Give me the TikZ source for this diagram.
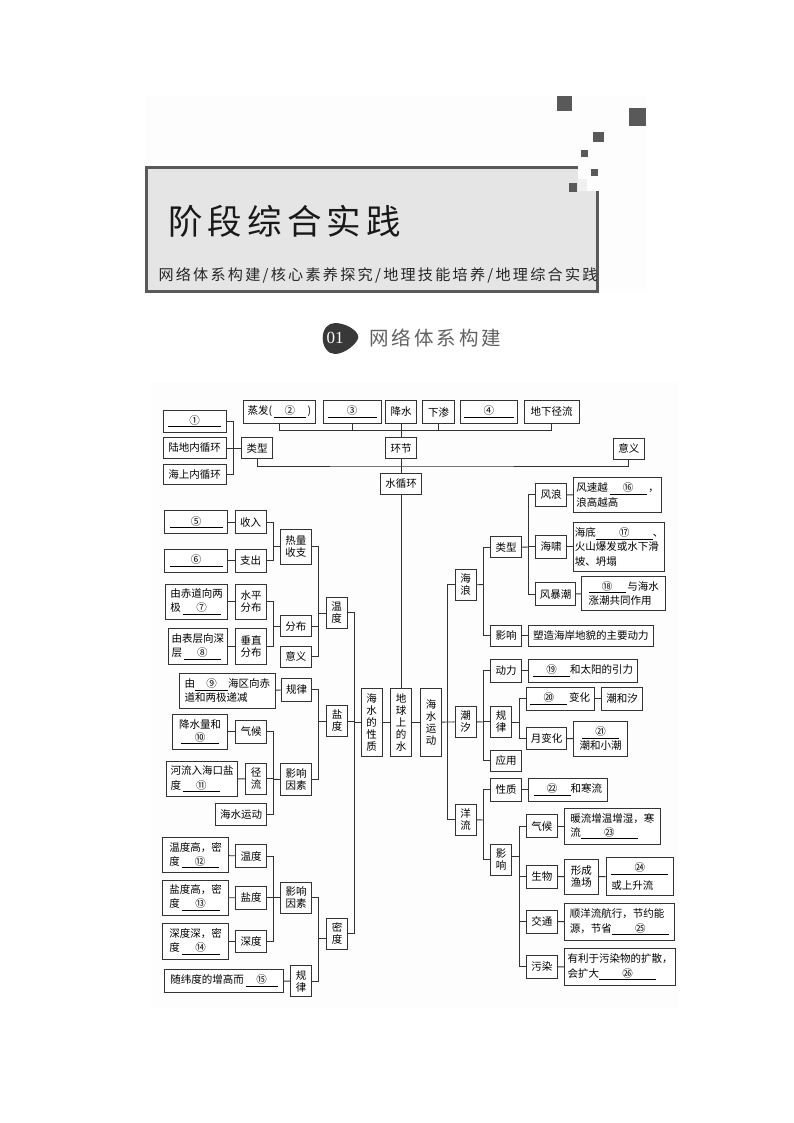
\documentclass[tikz,border=0pt]{standalone}
\usepackage{fontspec}
\setmainfont{Noto Sans CJK SC}
\newfontfamily\spaced[LetterSpace=15]{Noto Sans CJK SC}
\newfontfamily\digits{Liberation Serif}
\definecolor{panel-gray}{gray}{0.993}
\definecolor{head-gray}{gray}{0.9}
\definecolor{edge-gray}{gray}{0.35}
\definecolor{line-gray}{gray}{0.2}
\newcommand{\fillin}[2]{\underline{\makebox[#1pt]{#2}}}
\tikzset{
	box/.style={draw=line-gray,line width=.9pt,inner sep=0pt,align=center,fill=white,font=\fontsize{10.5}{12}\selectfont},
	para/.style={box,align=left,font=\fontsize{10.5}{14.3}\selectfont},
	wh/.style 2 args={minimum width=#1pt,minimum height=#2pt},
	link/.style={draw=line-gray,line width=.9pt}
}
\begin{document}
\begin{tikzpicture}[x=1pt,y=-1pt]
			\useasboundingbox (0,0) rectangle (794,1123);
			\fill [white] (0,0) rectangle (794,1123);
			\fill [panel-gray] (145,96) rectangle (647,292);					% header panel
			\fill [panel-gray] (150,382) rectangle (678,1008);					% chart panel
			\draw [draw=edge-gray,fill=head-gray,line width=3pt] (146.5,167.5) rectangle (597.5,291);	% title frame
			\fill [panel-gray] (577.7,165) rectangle (600,179);
			\fill [panel-gray] (586.7,179) rectangle (600,190.7);
			\fill [gray!12] (577.7,179) rectangle (586.7,190.7);
			\fill [edge-gray] (556.7,96) rectangle (572.3,111);					% squares
			\fill [edge-gray] (628.7,108.3) rectangle (646,125.7);
			\fill [edge-gray] (593,132) rectangle (603.7,142.3);
			\fill [edge-gray] (581,149.7) rectangle (588,156.7);
			\fill [edge-gray] (590.7,169) rectangle (598,176.3);
			\fill [edge-gray] (569,183.3) rectangle (577.3,192);
			\node [anchor=west,inner sep=0pt,font=\fontsize{34.5}{36}\selectfont\spaced,text=black!90] (title) at (168,221.5) {阶段综合实践};
			\node [anchor=west,inner sep=0pt,font=\fontsize{15.1}{16}\selectfont\spaced,text=black!85] (subtitle) at (158.3,275) {网络体系构建/核心素养探究/地理技能培养/地理综合实践};
			\fill [black!78] (322.7,338) .. controls (322.7,329) and (328,323) .. (335,323) .. controls (345,323) and (358,330) .. (358.3,337) .. controls (358,343) and (345,354) .. (335,354) .. controls (328,354) and (322.7,347) .. cycle;
			\node [text=white,font=\fontsize{17}{17}\selectfont\digits,inner sep=0pt] (num) at (335,338) {01};
			\node [anchor=west,inner sep=0pt,font=\fontsize{19.5}{20}\selectfont\spaced,text=black!62] (section) at (369.3,338) {网络体系构建};

			% water cycle
			\node [box,wh={62.7}{22.7}] (c1) at (194.7,421.3) {\fillin{53}{①}};
			\node [box,wh={62.7}{20.6}] (luDi) at (194.7,448) {陆地内循环};
			\node [box,wh={62.7}{20.7}] (haiShang) at (194.7,474.3) {海上内循环};
			\node [box,wh={31}{21}] (leiXing) at (257.2,448.2) {类型};
			\node [box,wh={72}{22.6}] (zhengFa) at (279.3,412) {蒸发(\,\fillin{32}{②}\,)};
			\node [box,wh={57.7}{22.6}] (c3) at (352.2,412) {\fillin{49}{③}};
			\node [box,wh={31.4}{22.6}] (jiangShui) at (401,412) {降水};
			\node [box,wh={31.6}{22.6}] (xiaShen) at (438.5,412) {下渗};
			\node [box,wh={57.7}{22.6}] (c4) at (488.8,412) {\fillin{50}{④}};
			\node [box,wh={55}{22.6}] (jingLiu) at (551.5,412) {地下径流};
			\node [box,wh={31.7}{21}] (huanJie) at (401,448.2) {环节};
			\node [box,wh={31}{21}] (yiYi) at (628.8,448.5) {意义};
			\node [box,wh={41.4}{21}] (shuiXunHuan) at (401,483.8) {水循环};

			% centre column
			\node [box,wh={20.7}{67.7}] (xingZhi) at (371.7,722.2) {海\\水\\的\\性\\质};
			\node [box,wh={21}{67.7}] (diQiu) at (401,722.2) {地\\球\\上\\的\\水};
			\node [box,wh={21}{67.7}] (yunDong) at (431.2,722.2) {海\\水\\运\\动};

			% temperature
			\node [box,wh={63}{23}] (c5) at (196.2,522.2) {\fillin{53}{⑤}};
			\node [box,wh={63}{23}] (c6) at (196.2,560.8) {\fillin{53}{⑥}};
			\node [box,wh={30.7}{23}] (shouRu) at (250.7,522.2) {收入};
			\node [box,wh={30.7}{23}] (zhiChu) at (250.7,560.8) {支出};
			\node [box,wh={31.7}{35}] (reLiang) at (295.8,546.8) {热量\\收支};
			\node [box,wh={31.7}{21}] (fenBu) at (295.8,626.2) {分布};
			\node [box,wh={31.7}{21}] (yiYiT) at (295.8,656.8) {意义};
			\node [box,wh={21.3}{31}] (wenDu) at (336.7,612.8) {温\\度};
			\node [box,wh={31.4}{35}] (shuiPing) at (251,601.8) {水平\\分布};
			\node [box,wh={31.4}{35.6}] (chuiZhi) at (251,646.5) {垂直\\分布};
			\node [para,wh={62}{35}] (c7) at (196.7,601.8) {由赤道向两\\极\,\fillin{38}{⑦}};
			\node [para,wh={59.7}{35.6}] (c8) at (197.8,646.5) {由表层向深\\层\,\fillin{37}{⑧}};

			% salinity
			\node [para,wh={95.3}{35}] (c9) at (227.3,690.8) {由\fillin{33}{⑨}海区向赤\\道和两极递减};
			\node [box,wh={30}{23}] (guiLvS) at (296.7,689.8) {规律};
			\node [box,wh={31.4}{31.6}] (yingXiangS) at (296,779.5) {影响\\因素};
			\node [box,wh={21.4}{30.6}] (yanDu) at (337,721) {盐\\度};
			\node [box,wh={31.4}{22.7}] (qiHouS) at (251,731.7) {气候};
			\node [box,wh={21}{31}] (jingLiuS) at (256.2,778.8) {径\\流};
			\node [box,wh={51}{22.7}] (haiYun) at (241.2,814.3) {海水运动};
			\node [box,wh={55}{35.3},font=\fontsize{10.5}{13}\selectfont] (c10) at (200.2,731.7) {降水量和\\\fillin{38}{⑩}};
			\node [para,wh={71}{35.4}] (c11) at (202.2,779) {河流入海口盐\\度\,\fillin{37}{⑪}};

			% density
			\node [para,wh={66}{35}] (c12) at (195.7,855.2) {温度高，密\\度\,\fillin{37}{⑫}};
			\node [para,wh={66}{35.3}] (c13) at (195.7,897.7) {盐度高，密\\度\,\fillin{38}{⑬}};
			\node [para,wh={66}{35.3}] (c14) at (195.7,941.3) {深度深，密\\度\,\fillin{38}{⑭}};
			\node [box,wh={31.4}{22.6}] (wenM) at (251,856) {温度};
			\node [box,wh={31.4}{23}] (yanM) at (251,897.8) {盐度};
			\node [box,wh={31.4}{22.7}] (shenM) at (251,941.3) {深度};
			\node [box,wh={31.4}{31.3}] (yingXiangM) at (296,897.7) {影响\\因素};
			\node [box,wh={21.4}{31}] (guiLvM) at (301,981.2) {规\\律};
			\node [box,wh={118.6}{23}] (c15) at (224,980.8) {随纬度的增高而\,\fillin{32}{⑮}};
			\node [box,wh={21.4}{31}] (miDu) at (337,933.8) {密\\度};

			% waves
			\node [box,wh={21}{31}] (haiLang) at (465.5,584.8) {海\\浪};
			\node [box,wh={21}{31}] (chaoXi) at (465.5,721.8) {潮\\汐};
			\node [box,wh={21}{31}] (yangLiu) at (465.5,819.8) {洋\\流};
			\node [box,wh={31.4}{21}] (leiXingH) at (506,547.2) {类型};
			\node [box,wh={31.4}{21}] (yingXiangH) at (506,635.8) {影响};
			\node [box,wh={125}{21}] (suZao) at (590.8,635.8) {塑造海岸地貌的主要动力};
			\node [box,wh={30.6}{23}] (fengLang) at (551,494.8) {风浪};
			\node [box,wh={30.6}{23}] (haiXiao) at (551,546.8) {海啸};
			\node [box,wh={40}{23}] (fengBao) at (555.7,594.2) {风暴潮};
			\node [para,wh={88}{34.6}] (c16) at (617.7,495) {风速越\,\fillin{37}{⑯}\,，\\浪高越高};
			\node [para,wh={90.6}{49}] (c17) at (619,546.8) {海底\fillin{57}{⑰}、\\火山爆发或水下滑\\坡、坍塌};
			\node [para,wh={84}{34}] (c18) at (623.7,593.3) {\fillin{37}{⑱}\,与海水\\涨潮共同作用};

			% tides
			\node [box,wh={31.4}{23}] (dongLi) at (506,670.8) {动力};
			\node [box,wh={109.4}{23}] (c19) at (583,670.8) {\fillin{37}{⑲}和太阳的引力};
			\node [box,wh={21.4}{31}] (guiLvC) at (501,721.8) {规\\律};
			\node [box,wh={31.4}{21.3}] (yingYong) at (506,760.7) {应用};
			\node [box,wh={68}{23}] (c20) at (560.3,698.8) {\fillin{37}{⑳}\,变化};
			\node [box,wh={41}{23}] (chaoHeXi) at (622.2,698.8) {潮和汐};
			\node [box,wh={40.4}{22.7}] (yueBian) at (546.5,738.4) {月变化};
			\node [box,wh={54}{35},font=\fontsize{10.5}{14.3}\selectfont] (c21) at (600.7,738.8) {\fillin{37}{㉑}\\潮和小潮};

			% currents
			\node [box,wh={31.4}{23}] (xingZhiY) at (506,789.8) {性质};
			\node [box,wh={79}{23}] (c22) at (567.8,789.8) {\fillin{37}{㉒}和寒流};
			\node [box,wh={21.4}{31}] (yingXiangY) at (501,859.5) {影\\响};
			\node [box,wh={31}{23}] (qiHouY) at (541.8,826.2) {气候};
			\node [para,wh={96}{36.3}] (c23) at (612.3,826.2) {暖流增温增湿，寒\\流\fillin{57}{㉓}};
			\node [box,wh={31}{23}] (shengWu) at (541.8,876.5) {生物};
			\node [box,wh={34}{34.7}] (yuChang) at (581.3,876.7) {形成\\渔场};
			\node [para,wh={67.7}{38.4},font=\fontsize{10.5}{17.5}\selectfont] (c24) at (639.8,876.5) {\fillin{57}{㉔}\\或上升流};
			\node [box,wh={31}{23}] (jiaoTong) at (541.8,921.5) {交通};
			\node [para,wh={110}{37.4}] (c25) at (619.3,922) {顺洋流航行，节约能\\源，节省\fillin{57}{㉕}};
			\node [box,wh={31}{23}] (wuRan) at (541.8,966.8) {污染};
			\node [para,wh={111.4}{36.6}] (c26) at (620,967) {有利于污染物的扩散，\\会扩大\fillin{57}{㉖}};

			% junctions
			\coordinate (busTop) at (401,430.7);
			\coordinate (busMid) at (401,466);
			\coordinate (typeJoin) at (233.3,448.2);
			\coordinate (heatJoin) at (273.3,546.8);
			\coordinate (distJoin) at (273.3,626.2);
			\coordinate (tempJoin) at (318.3,613.3);
			\coordinate (saltFactor) at (273.7,779.3);
			\coordinate (saltJoin) at (318.3,721.7);
			\coordinate (densFactor) at (273.7,897.7);
			\coordinate (densJoin) at (318.3,938.3);
			\coordinate (leftBus) at (354.3,722.2);
			\coordinate (rightBus) at (447.7,722.2);
			\coordinate (waveJoin) at (483.3,584.5);
			\coordinate (kindJoin) at (528.7,547);
			\coordinate (tideJoin) at (483.3,722);
			\coordinate (ruleJoin) at (519.3,722.7);
			\coordinate (flowJoin) at (483.3,820);
			\coordinate (useJoin) at (519.3,856.7);

			\foreach \n in {zhengFa,c3,xiaShen,jingLiu}{							% upper bus
				\draw [link] (\n.south) |- (busTop);
			}
			\draw [link] (jiangShui) -- (huanJie);
			\draw [link] (huanJie) -- (shuiXunHuan);
			\draw [link] (shuiXunHuan) -- (diQiu);
			\draw [link] (leiXing.south) |- (busMid) -| (yiYi.south);
			\foreach \n in {c1,luDi,haiShang}{
				\draw [link] (\n.east) -| (typeJoin);
			}
			\draw [link] (typeJoin) -- (leiXing.west);
			\foreach \a/\b in {c5/shouRu,c6/zhiChu,c7/shuiPing,c8/chuiZhi,c10/qiHouS,c11/jingLiuS,c12/wenM,c13/yanM,c14/shenM,c15/guiLvM,c9/guiLvS,fengLang/c16,haiXiao/c17,fengBao/c18,yingXiangH/suZao,dongLi/c19,c20/chaoHeXi,yueBian/c21,xingZhiY/c22,qiHouY/c23,shengWu/yuChang,yuChang/c24,jiaoTong/c25,wuRan/c26}{
				\draw [link] (\a) -- (\b);
			}
			\foreach \n/\j in {shouRu/heatJoin,zhiChu/heatJoin,shuiPing/distJoin,chuiZhi/distJoin,reLiang/tempJoin,fenBu/tempJoin,yiYiT/tempJoin,qiHouS/saltFactor,jingLiuS/saltFactor,haiYun/saltFactor,guiLvS/saltJoin,yingXiangS/saltJoin,wenM/densFactor,yanM/densFactor,shenM/densFactor,yingXiangM/densJoin,guiLvM/densJoin,wenDu/leftBus,yanDu/leftBus,miDu/leftBus}{
				\draw [link] (\n.east) -| (\j);
			}
			\draw [link] (heatJoin) -- (reLiang.west);
			\draw [link] (distJoin) -- (fenBu.west);
			\draw [link] (tempJoin) -- (tempJoin -| wenDu.west);
			\draw [link] (saltFactor) -- (yingXiangS.west);
			\draw [link] (saltJoin) -- (saltJoin -| yanDu.west);
			\draw [link] (densFactor) -- (yingXiangM.west);
			\draw [link] (densJoin) -- (densJoin -| miDu.west);
			\draw [link] (leftBus) -- (xingZhi.west);
			\draw [link] (xingZhi) -- (diQiu);
			\draw [link] (diQiu) -- (yunDong);
			\draw [link] (yunDong) -- (chaoXi);
			\foreach \n in {haiLang,yangLiu}{
				\draw [link] (\n.west) -| (rightBus);
			}
			\foreach \n/\j in {leiXingH/waveJoin,yingXiangH/waveJoin,dongLi/tideJoin,guiLvC/tideJoin,yingYong/tideJoin,xingZhiY/flowJoin,yingXiangY/flowJoin,fengLang/kindJoin,haiXiao/kindJoin,fengBao/kindJoin,c20/ruleJoin,yueBian/ruleJoin,qiHouY/useJoin,shengWu/useJoin,jiaoTong/useJoin,wuRan/useJoin}{
				\draw [link] (\n.west) -| (\j);
			}
			\draw [link] (haiLang.east) -- (waveJoin);
			\draw [link] (chaoXi.east) -- (tideJoin);
			\draw [link] (yangLiu.east) -- (flowJoin);
			\draw [link] (leiXingH.east) -- (kindJoin);
			\draw [link] (guiLvC.east) -- (ruleJoin -| guiLvC.east);
			\draw [link] (ruleJoin -| guiLvC.east) -- (ruleJoin);
			\draw [link] (yingXiangY.east |- useJoin) -- (useJoin);
		\end{tikzpicture}
\end{document}
